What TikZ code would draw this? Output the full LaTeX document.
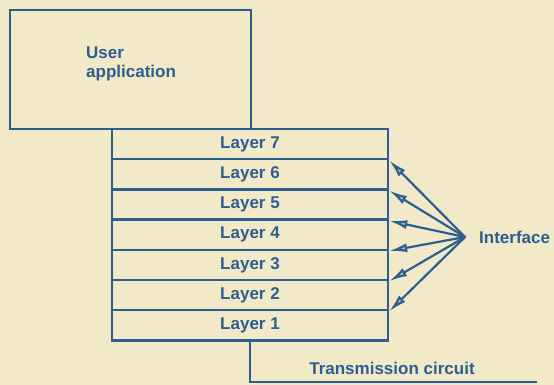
\documentclass[tikz,border=0pt]{standalone}
\usepackage{fontspec}
\setmainfont{Liberation Sans}
\usetikzlibrary{arrows.meta}
\definecolor{bg}{HTML}{F1E9C8}
\definecolor{ink}{HTML}{2E5E8E}
\begin{document}
\begin{tikzpicture}[x=1pt,y=-1pt,
  every node/.style={font=\fontsize{17}{19}\selectfont\bfseries, text=ink},
  box/.style={draw=ink, line width=2.4pt, inner sep=0pt},
  layerbox/.style={box, minimum width=276pt, minimum height=30.2pt},
  conn/.style={draw=ink, line width=2.4pt},
  ifarrow/.style={draw=ink, line width=2.2pt, -{Latex[open,fill=ink!25!bg,length=18pt,width=9pt]}}
]
\fill[bg] (0,0) rectangle (554,385);
\useasboundingbox (0,0) rectangle (554,385);
% user application box
\node[box, minimum width=241pt, minimum height=119pt] (ua) at (130.5,69.5) {};
\node[anchor=north west, align=left, inner sep=0pt] (uat) at (86,47) {User\\application};
% layers
\foreach \i in {7,...,1}{
  \node[layerbox] (L\i) at (250,{129+(7-\i)*30.2+15.1}) {Layer \i};
}
% interface
\coordinate (apex) at (465,237);
\node[anchor=west, inner sep=0pt] (if) at (479,237) {Interface};
\foreach \i in {7,...,2}{
  \draw[ifarrow] (apex) -- (L\i.south east);
}
% transmission circuit
\coordinate (tc) at (537,382);
\draw[conn] (L1.south) |- (tc);
\node (tct) at (392,368) {Transmission circuit};
\end{tikzpicture}
\end{document}
